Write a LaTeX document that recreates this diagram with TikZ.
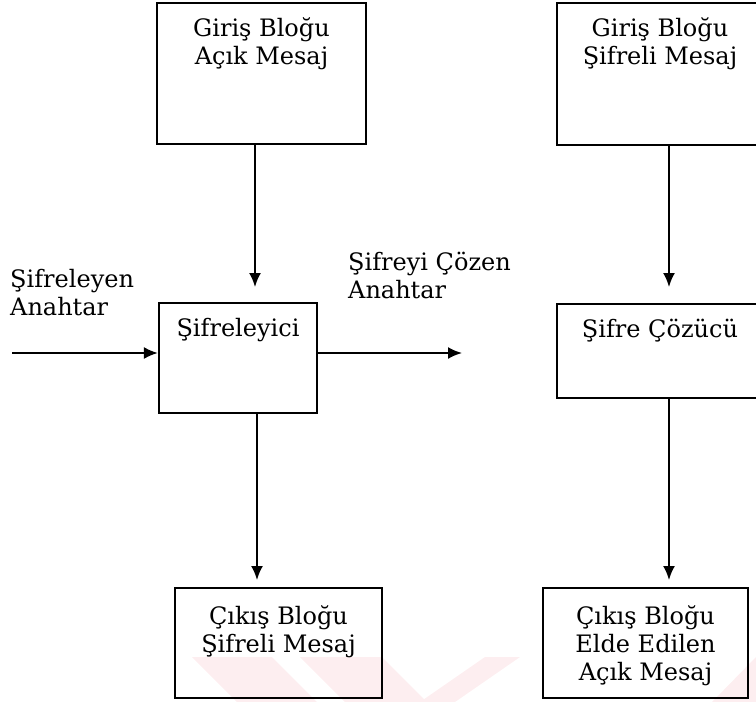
\documentclass[tikz,border=0pt]{standalone}
\usepackage{fontspec}
\setmainfont{DejaVu Serif}
\usepackage{xcolor}
\usetikzlibrary{positioning}
\usetikzlibrary{arrows.meta}
\definecolor{filigran}{RGB}{253,238,240}
\tikzset{
blok/.style={draw=black, line width=2.2pt, inner sep=0pt},
yazi/.style={font=\fontsize{24}{28}\selectfont, align=center, inner sep=0pt, anchor=north},
ok/.style={line width=2pt, -{Latex[length=14pt,width=12pt]}}
}

\begin{document}
\begin{tikzpicture}[x=1pt,y=-1pt]
\useasboundingbox (0,0) rectangle (756,702);

% Watermark
\fill[filigran] (192,657) -- (272,657) -- (317,702) -- (237,702) -- cycle;
\fill[filigran] (300,657) -- (382,657) -- (427,702) -- (345,702) -- cycle;
\fill[filigran] (520,657) -- (455,702) -- (420,702) -- (485,657) -- cycle;
\fill[filigran] (756,657) -- (712,702) -- (756,702) -- cycle;

% Coordinates
\coordinate (giris1_alt) at (255,287);
\coordinate (sifreleyici_alt) at (257,580);
\coordinate (anahtar1_bas) at (12,353);
\coordinate (anahtar2_uc) at (462,353);
\coordinate (giris2_alt) at (669,287);
\coordinate (cozucu_alt) at (669,580);

% Boxes
\node[blok, minimum width=209pt, minimum height=141pt] (giris1) at (261.5,73.5) {};
\node[blok, minimum width=158pt, minimum height=110pt] (sifreleyici) at (238,358) {};
\node[blok, minimum width=207pt, minimum height=110pt] (cikis1) at (278.5,643) {};
\node[blok, minimum width=206pt, minimum height=142pt] (giris2) at (660,74) {};
\node[blok, minimum width=206pt, minimum height=94pt] (cozucu) at (660,351) {};
\node[blok, minimum width=205pt, minimum height=110pt] (cikis2) at (645.5,643) {};

% Texts
\node[yazi, below=16pt of giris1.north] (giris1_yazi) {Giriş Bloğu\\Açık Mesaj};
\node[yazi, below=16pt of sifreleyici.north] (sifreleyici_yazi) {Şifreleyici};
\node[yazi, below=19pt of cikis1.north] (cikis1_yazi) {Çıkış Bloğu\\Şifreli Mesaj};
\node[yazi, below=16pt of giris2.north] (giris2_yazi) {Giriş Bloğu\\Şifreli Mesaj};
\node[yazi, below=16pt of cozucu.north] (cozucu_yazi) {Şifre Çözücü};
\node[yazi, below=19pt of cikis2.north] (cikis2_yazi) {Çıkış Bloğu\\Elde Edilen\\Açık Mesaj};
\node[yazi, anchor=north west, align=left] (anahtar1) at (10,269) {Şifreleyen\\Anahtar};
\node[yazi, anchor=north west, align=left] (anahtar2) at (348,252) {Şifreyi Çözen\\Anahtar};

% Arrows
\draw[ok] (giris1.south -| giris1_alt) -- (giris1_alt);
\draw[ok] (sifreleyici.south -| sifreleyici_alt) -- (sifreleyici_alt);
\draw[ok] (anahtar1_bas) -- (anahtar1_bas -| sifreleyici.west);
\draw[ok] (anahtar2_uc -| sifreleyici.east) -- (anahtar2_uc);
\draw[ok] (giris2.south -| giris2_alt) -- (giris2_alt);
\draw[ok] (cozucu.south -| cozucu_alt) -- (cozucu_alt);

\end{tikzpicture}
\end{document}
